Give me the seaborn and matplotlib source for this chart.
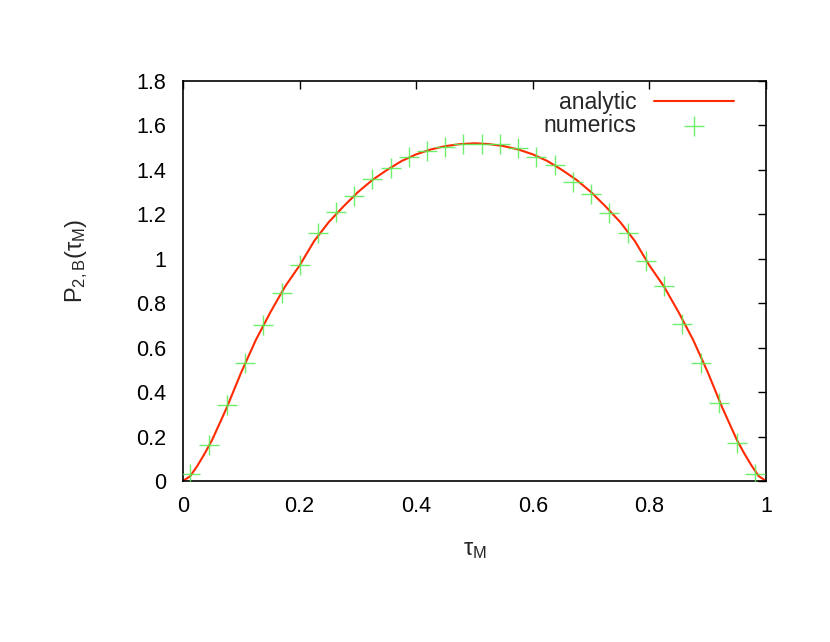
import seaborn as sns
import matplotlib.pyplot as plt
import pandas as pd

# valores
tau_curve = [0.0, 0.0125, 0.025, 0.0375, 0.05, 0.075, 0.1, 0.125, 0.15, 0.175,
             0.2, 0.225, 0.25, 0.275, 0.3, 0.325, 0.35, 0.375, 0.4, 0.425,
             0.45, 0.475, 0.5, 0.525, 0.55, 0.575, 0.6, 0.625, 0.65, 0.675,
             0.7, 0.725, 0.75, 0.775, 0.8, 0.825, 0.85, 0.875, 0.9, 0.925,
             0.95, 0.9625, 0.975, 0.9875, 1.0]
p_curve = [0.0, 0.022, 0.07, 0.125, 0.185, 0.33, 0.49, 0.635, 0.76, 0.875,
           0.97, 1.08, 1.165, 1.235, 1.30, 1.355, 1.40, 1.44, 1.47, 1.492,
           1.507, 1.516, 1.52, 1.516, 1.507, 1.492, 1.47, 1.44, 1.40, 1.355,
           1.30, 1.235, 1.165, 1.08, 0.97, 0.875, 0.76, 0.635, 0.49, 0.33,
           0.185, 0.125, 0.07, 0.022, 0.0]

tau_num = [0.0125, 0.044, 0.075, 0.106, 0.138, 0.169, 0.2, 0.231, 0.263, 0.294,
           0.325, 0.356, 0.388, 0.419, 0.45, 0.481, 0.513, 0.544, 0.575, 0.606,
           0.638, 0.669, 0.7, 0.731, 0.763, 0.794, 0.825, 0.856, 0.888, 0.919,
           0.95, 0.981]
p_num = [0.03, 0.163, 0.342, 0.53, 0.70, 0.848, 0.972, 1.115, 1.21, 1.283,
         1.357, 1.41, 1.46, 1.485, 1.504, 1.517, 1.517, 1.515, 1.497, 1.46,
         1.422, 1.347, 1.292, 1.205, 1.115, 0.99, 0.879, 0.705, 0.532, 0.352,
         0.172, 0.03]

xticks = [0, 0.2, 0.4, 0.6, 0.8, 1]
xtick_labels = ["0", "0.2", "0.4", "0.6", "0.8", "1"]
yticks = [0, 0.2, 0.4, 0.6, 0.8, 1.0, 1.2, 1.4, 1.6, 1.8]
ytick_labels = ["0", "0.2", "0.4", "0.6", "0.8", "1", "1.2", "1.4", "1.6", "1.8"]

sns.set_theme(style="white")
plt.rcParams['font.family'] = ['Liberation Sans', 'DejaVu Sans']
plt.rcParams['mathtext.fontset'] = 'custom'
plt.rcParams['mathtext.rm'] = 'Liberation Sans'
plt.rcParams['mathtext.it'] = 'Liberation Sans'

curve = pd.DataFrame({"tau": tau_curve, "P": p_curve})
num = pd.DataFrame({"tau": tau_num, "P": p_num})

f = plt.figure(figsize=(8.3, 6.42), dpi=100)
ax = f.add_axes([0.2205, 0.2508, 0.7024, 0.623])

sns.lineplot(data=curve, x="tau", y="P", color="#ff2a00", linewidth=1.5,
             label="analytic", ax=ax, zorder=2)
sns.scatterplot(data=num, x="tau", y="P", marker="+", s=220, color="#55ee55",
                linewidth=1.0, label="numerics", ax=ax, zorder=3, alpha=0.85)

ax.set_xlim(0, 1)
ax.set_ylim(0, 1.8)
ax.set_xticks(xticks)
ax.set_xticklabels(xtick_labels)
ax.set_yticks(yticks)
ax.set_yticklabels(ytick_labels)
ax.tick_params(direction="in", length=6, width=1, top=True, right=True,
               labelsize=15.5, colors="black")
ax.tick_params(axis="y", pad=12)
ax.tick_params(axis="x", pad=11)
for s in ax.spines.values():
    s.set_color("black")
    s.set_linewidth(1.2)

ax.set_xlabel(r"$\tau_{\mathrm{M}}$", fontsize=17)
ax.set_ylabel(r"$\mathrm{P}_{\mathrm{2,B}}(\tau_{\mathrm{M}})$", fontsize=17)
ax.xaxis.set_label_coords(0.5, -0.145)
ax.yaxis.set_label_coords(-0.16, 0.55)

leg = ax.legend(loc="upper right", bbox_to_anchor=(0.945, 0.975),
                frameon=False, markerfirst=False, fontsize=16.5,
                handlelength=3.5, borderaxespad=0, borderpad=0,
                labelspacing=0.0, handletextpad=0.75)

f.savefig("out.png", dpi=100)
